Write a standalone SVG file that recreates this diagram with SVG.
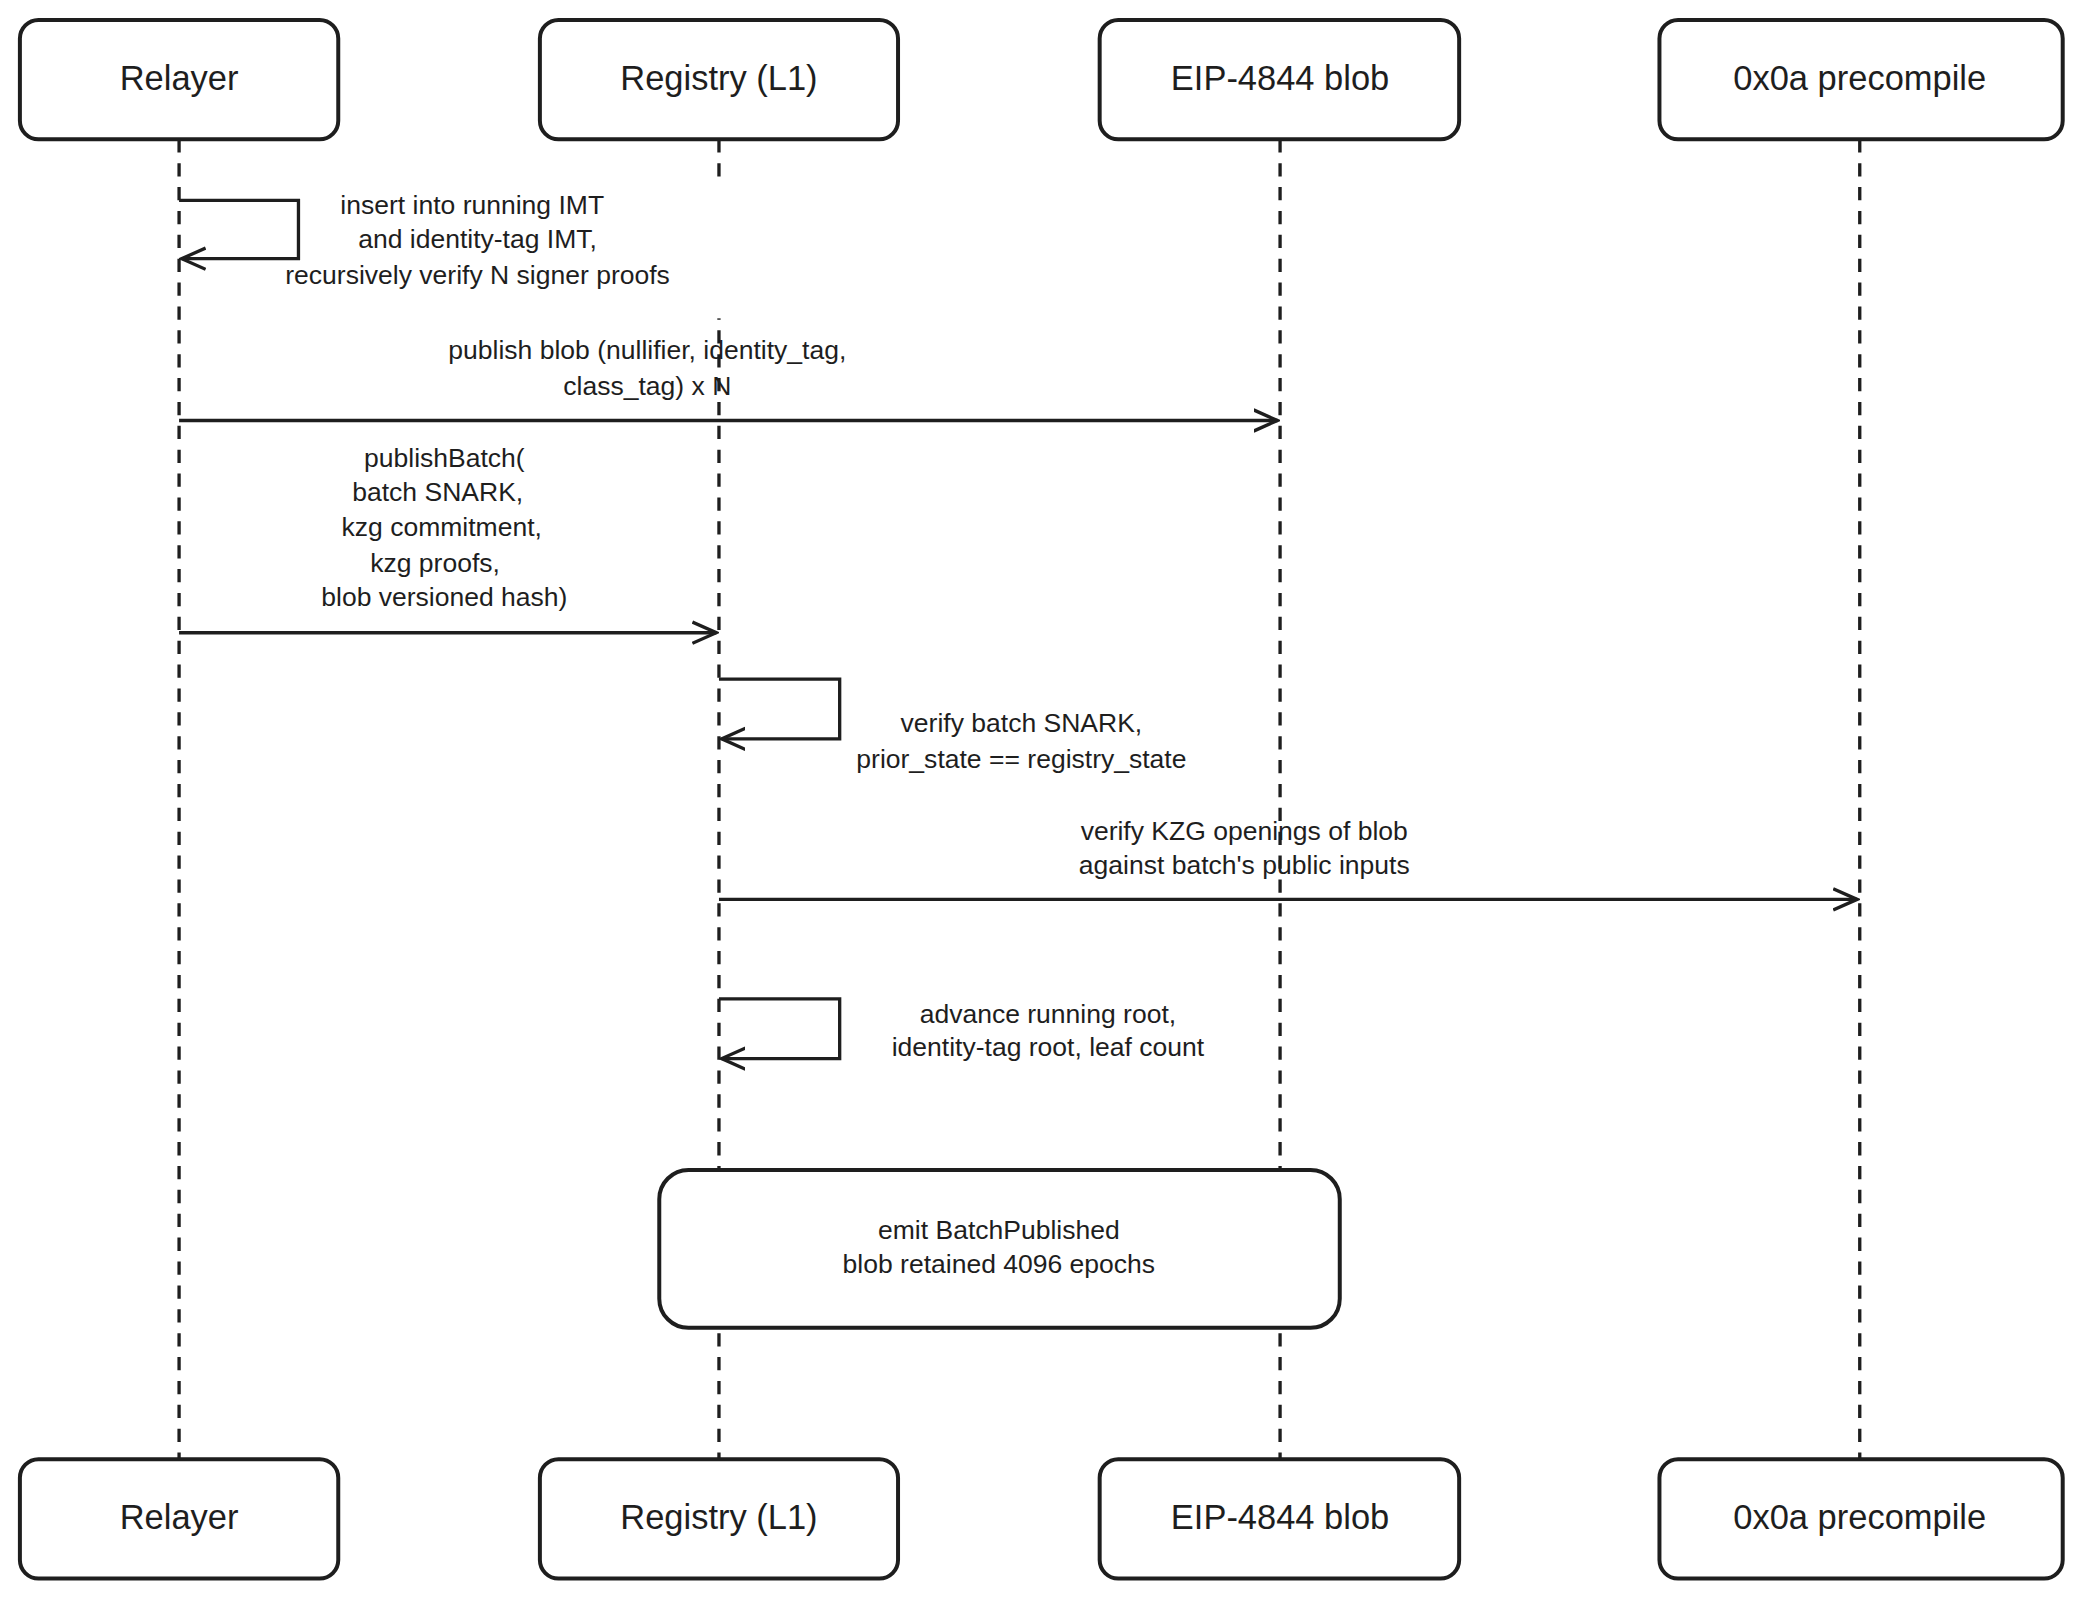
<svg xmlns="http://www.w3.org/2000/svg" width="2080" height="1600" viewBox="0 0 2080 1600">
<style>
.box{fill:#fff;stroke:#1e1e1e;stroke-width:3}
.life{stroke:#1e1e1e;stroke-width:2.5;stroke-dasharray:10 8;fill:none}
.msg{stroke:#1e1e1e;stroke-width:2.5;fill:none}
.an{font-family:"Liberation Sans",sans-serif;font-size:26px;fill:#1e1e1e;text-anchor:middle}
.lb{font-family:"Liberation Sans",sans-serif;font-size:20px;fill:#1e1e1e;text-anchor:middle}
</style>
<defs>
<marker id="ar" markerWidth="20" markerHeight="20" refX="18" refY="10" orient="auto" markerUnits="userSpaceOnUse">
<path d="M0,2 L18,10 L0,18" fill="none" stroke="#1e1e1e" stroke-width="2.5"/>
</marker>
</defs>
<rect width="2080" height="1600" fill="#fff"/>
<g transform="scale(1.3265)">
<g id="lifelines">
<line class="life" x1="135" y1="105" x2="135" y2="1100"/>
<line class="life" x1="542" y1="105" x2="542" y2="1100"/>
<line class="life" x1="965" y1="105" x2="965" y2="1100"/>
<line class="life" x1="1402" y1="105" x2="1402" y2="1100"/>
</g>
<g id="actor-relayer-top"><rect class="box" x="15" y="15" width="240" height="90" rx="14"/><text class="an" x="135" y="68">Relayer</text></g>
<g id="actor-registry-top"><rect class="box" x="407" y="15" width="270" height="90" rx="14"/><text class="an" x="542" y="68">Registry (L1)</text></g>
<g id="actor-blob-top"><rect class="box" x="829" y="15" width="271" height="90" rx="14"/><text class="an" x="965" y="68">EIP-4844 blob</text></g>
<g id="actor-pre-top"><rect class="box" x="1251" y="15" width="304" height="90" rx="14"/><text class="an" x="1402" y="68">0x0a precompile</text></g>
<g id="actor-relayer-bot"><rect class="box" x="15" y="1100" width="240" height="90" rx="14"/><text class="an" x="135" y="1153">Relayer</text></g>
<g id="actor-registry-bot"><rect class="box" x="407" y="1100" width="270" height="90" rx="14"/><text class="an" x="542" y="1153">Registry (L1)</text></g>
<g id="actor-blob-bot"><rect class="box" x="829" y="1100" width="271" height="90" rx="14"/><text class="an" x="965" y="1153">EIP-4844 blob</text></g>
<g id="actor-pre-bot"><rect class="box" x="1251" y="1100" width="304" height="90" rx="14"/><text class="an" x="1402" y="1153">0x0a precompile</text></g>
<g id="connectors">
<path class="msg" d="M135,151 H225 V195 H137" marker-end="url(#ar)"/>
<line class="msg" x1="135" y1="317" x2="963" y2="317" marker-end="url(#ar)"/>
<line class="msg" x1="135" y1="477" x2="540" y2="477" marker-end="url(#ar)"/>
<path class="msg" d="M542,512 H633 V557 H544" marker-end="url(#ar)"/>
<line class="msg" x1="542" y1="678" x2="1400" y2="678" marker-end="url(#ar)"/>
<path class="msg" d="M542,753 H633 V798 H544" marker-end="url(#ar)"/>
</g>
<g id="labels">
<rect x="530" y="140" width="24" height="100" fill="#fff"/>
<text class="lb" x="356" y="161">insert into running IMT</text>
<text class="lb" x="360" y="187">and identity-tag IMT,</text>
<text class="lb" x="360" y="214">recursively verify N signer proofs</text>
<text class="lb" x="488" y="271">publish blob (nullifier, identity_tag,</text>
<text class="lb" x="488" y="298">class_tag) x N</text>
<text class="lb" x="335" y="352">publishBatch(</text>
<text class="lb" x="330" y="378">batch SNARK,</text>
<text class="lb" x="333" y="404">kzg commitment,</text>
<text class="lb" x="328" y="431">kzg proofs,</text>
<text class="lb" x="335" y="457">blob versioned hash)</text>
<text class="lb" x="770" y="552">verify batch SNARK,</text>
<text class="lb" x="770" y="579">prior_state == registry_state</text>
<text class="lb" x="938" y="633">verify KZG openings of blob</text>
<text class="lb" x="938" y="659">against batch's public inputs</text>
<text class="lb" x="790" y="771">advance running root,</text>
<text class="lb" x="790" y="796">identity-tag root, leaf count</text>
</g>
<g id="note"><rect class="box" x="497" y="882" width="513" height="119" rx="22"/>
<text class="lb" x="753" y="934">emit BatchPublished</text>
<text class="lb" x="753" y="960">blob retained 4096 epochs</text></g>
</g>
</svg>
